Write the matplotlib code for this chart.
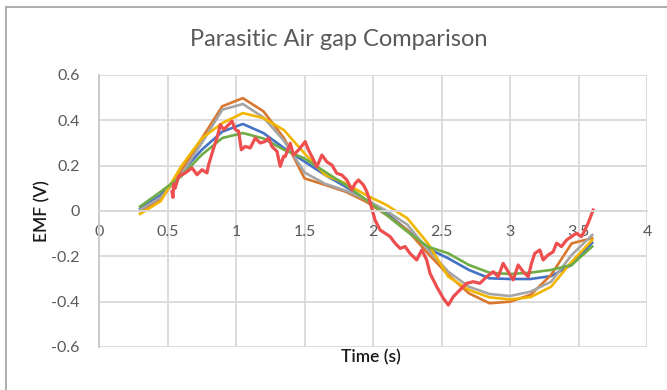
import matplotlib
matplotlib.use('Agg')
import matplotlib.pyplot as plt
from matplotlib.patches import Rectangle

plt.rcParams['font.family'] = ['Lato', 'DejaVu Sans']

# simulated EMF curves, sampled every 0.15 s
t_sim = [0.3, 0.45, 0.6, 0.75, 0.9, 1.05, 1.2, 1.35, 1.5, 1.65, 1.8, 1.95,
         2.1, 2.25, 2.4, 2.55, 2.7, 2.85, 3.0, 3.15, 3.3, 3.45, 3.6]
emf_blue = [0.01, 0.07, 0.168, 0.27, 0.35, 0.384, 0.344, 0.278, 0.218, 0.159, 0.107, 0.049,
            -0.01, -0.084, -0.165, -0.209, -0.26, -0.297, -0.30, -0.30, -0.287, -0.238, -0.14]
emf_orange = [0.0, 0.05, 0.175, 0.32, 0.462, 0.498, 0.44, 0.322, 0.144, 0.115, 0.085, 0.041,
              -0.018, -0.084, -0.187, -0.282, -0.363, -0.407, -0.40, -0.37, -0.282, -0.143, -0.12]
emf_gray = [0.005, 0.06, 0.16, 0.30, 0.447, 0.472, 0.413, 0.31, 0.17, 0.12, 0.09, 0.05,
            0.0, -0.06, -0.17, -0.268, -0.334, -0.366, -0.375, -0.356, -0.312, -0.194, -0.106]
emf_yellow = [-0.013, 0.043, 0.197, 0.32, 0.388, 0.432, 0.41, 0.357, 0.254, 0.159, 0.122, 0.07,
              0.026, -0.032, -0.142, -0.29, -0.348, -0.381, -0.39, -0.38, -0.334, -0.224, -0.128]
emf_green = [0.02, 0.085, 0.153, 0.248, 0.322, 0.344, 0.32, 0.27, 0.232, 0.173, 0.115, 0.049,
             -0.018, -0.091, -0.157, -0.187, -0.238, -0.272, -0.278, -0.272, -0.26, -0.238, -0.157]

# measured EMF (noisy trace)
t_meas = [0.533, 0.54, 0.545, 0.555, 0.582, 0.63, 0.679, 0.716, 0.752, 0.788, 0.80, 0.837,
          0.861, 0.886, 0.91, 0.946, 0.971, 0.995, 1.019, 1.039, 1.068, 1.104, 1.14, 1.177,
          1.213, 1.238, 1.262, 1.299, 1.323, 1.347, 1.359, 1.396, 1.42, 1.456, 1.505, 1.529,
          1.554, 1.59, 1.627, 1.663, 1.70, 1.736, 1.772, 1.809, 1.846, 1.87, 1.894, 1.93,
          1.955, 1.974, 1.991, 2.015, 2.052, 2.088, 2.125, 2.161, 2.198, 2.234, 2.27, 2.319,
          2.356, 2.392, 2.416, 2.465, 2.513, 2.55, 2.586, 2.635, 2.684, 2.732, 2.78, 2.83,
          2.878, 2.914, 2.95, 2.987, 3.023, 3.06, 3.096, 3.133, 3.157, 3.181, 3.218, 3.242,
          3.278, 3.315, 3.34, 3.376, 3.413, 3.449, 3.485, 3.522, 3.546, 3.57, 3.607]
emf_meas = [0.085, 0.06, 0.12, 0.10, 0.153, 0.168, 0.19, 0.16, 0.182, 0.168, 0.204, 0.278,
            0.322, 0.381, 0.359, 0.381, 0.396, 0.359, 0.352, 0.27, 0.285, 0.278, 0.322, 0.30,
            0.307, 0.322, 0.285, 0.263, 0.197, 0.241, 0.24, 0.299, 0.247, 0.269, 0.306, 0.269,
            0.24, 0.195, 0.247, 0.217, 0.203, 0.166, 0.159, 0.137, 0.093, 0.122, 0.137, 0.115,
            0.085, 0.049, 0.012, -0.04, -0.084, -0.098, -0.113, -0.142, -0.165, -0.157, -0.187, -0.216,
            -0.172, -0.216, -0.275, -0.334, -0.385, -0.415, -0.378, -0.348, -0.319, -0.312, -0.319, -0.29,
            -0.268, -0.29, -0.231, -0.268, -0.304, -0.238, -0.268, -0.29, -0.231, -0.187, -0.172, -0.216,
            -0.194, -0.18, -0.142, -0.157, -0.128, -0.113, -0.098, -0.113, -0.084, -0.054, 0.004]

x_ticks = [0, 0.5, 1, 1.5, 2, 2.5, 3, 3.5, 4]
x_labels = ['0', '0.5', '1', '1.5', '2', '2.5', '3', '3.5', '4']
y_ticks = [-0.6, -0.4, -0.2, 0, 0.2, 0.4, 0.6]
y_labels = ['-0.6', '-0.4', '-0.2', '0', '0.2', '0.4', '0.6']

fig = plt.figure(figsize=(6.67, 3.9), dpi=100)
ax = fig.add_axes([99 / 667, 1 - 347 / 390, 548 / 667, 272 / 390])

grid_col = '#D9D9D9'
lw = 1.9
ax.plot(t_sim, emf_blue, color='#4472C4', lw=lw)
ax.plot(t_sim, emf_orange, color='#D9772F', lw=lw)
ax.plot(t_sim, emf_gray, color='#A5A5A5', lw=lw)
ax.plot(t_sim, emf_yellow, color='#F2B600', lw=lw)
ax.plot(t_sim, emf_green, color='#70AD47', lw=lw)
ax.plot(t_meas, emf_meas, color='#EE4E4E', lw=2.3)

ax.set_xlim(0, 4)
ax.set_ylim(-0.6, 0.6)
ax.set_xticks(x_ticks)
ax.set_xticklabels(x_labels)
ax.set_yticks(y_ticks)
ax.set_yticklabels(y_labels)
ax.grid(True, color=grid_col, lw=1.3)
ax.set_axisbelow(True)

for s in ['top', 'right']:
    ax.spines[s].set_visible(False)
ax.spines['bottom'].set_position(('data', 0))
ax.spines['bottom'].set_color(grid_col)
ax.spines['bottom'].set_linewidth(1.3)
ax.spines['left'].set_color('#C8C8C8')
ax.spines['left'].set_linewidth(1.3)
ax.tick_params(length=0, labelsize=11.5, labelcolor='#595959')
ax.tick_params(axis='x', pad=10)
ax.tick_params(axis='y', pad=14)

fig.text(339 / 667, 1 - 40 / 390, 'Parasitic Air gap Comparison', ha='center', va='center',
         fontsize=17, color='#595959')
fig.text(42 / 667, 1 - 211 / 390, 'EMF (V)', rotation=90, ha='center', va='center',
         fontsize=12.5, color='#1a1a1a', weight='semibold')
fig.text(371 / 667, 1 - 357 / 390, 'Time (s)', ha='center', va='center',
         fontsize=12.5, color='#1a1a1a', weight='semibold')

fig.patches.append(Rectangle((6 / 667, -0.1), 1.2, 1 - 7 / 390 + 0.1, transform=fig.transFigure,
                             fill=False, edgecolor='#A0A0A0', lw=1.2))

fig.savefig('out.png', dpi=100)
